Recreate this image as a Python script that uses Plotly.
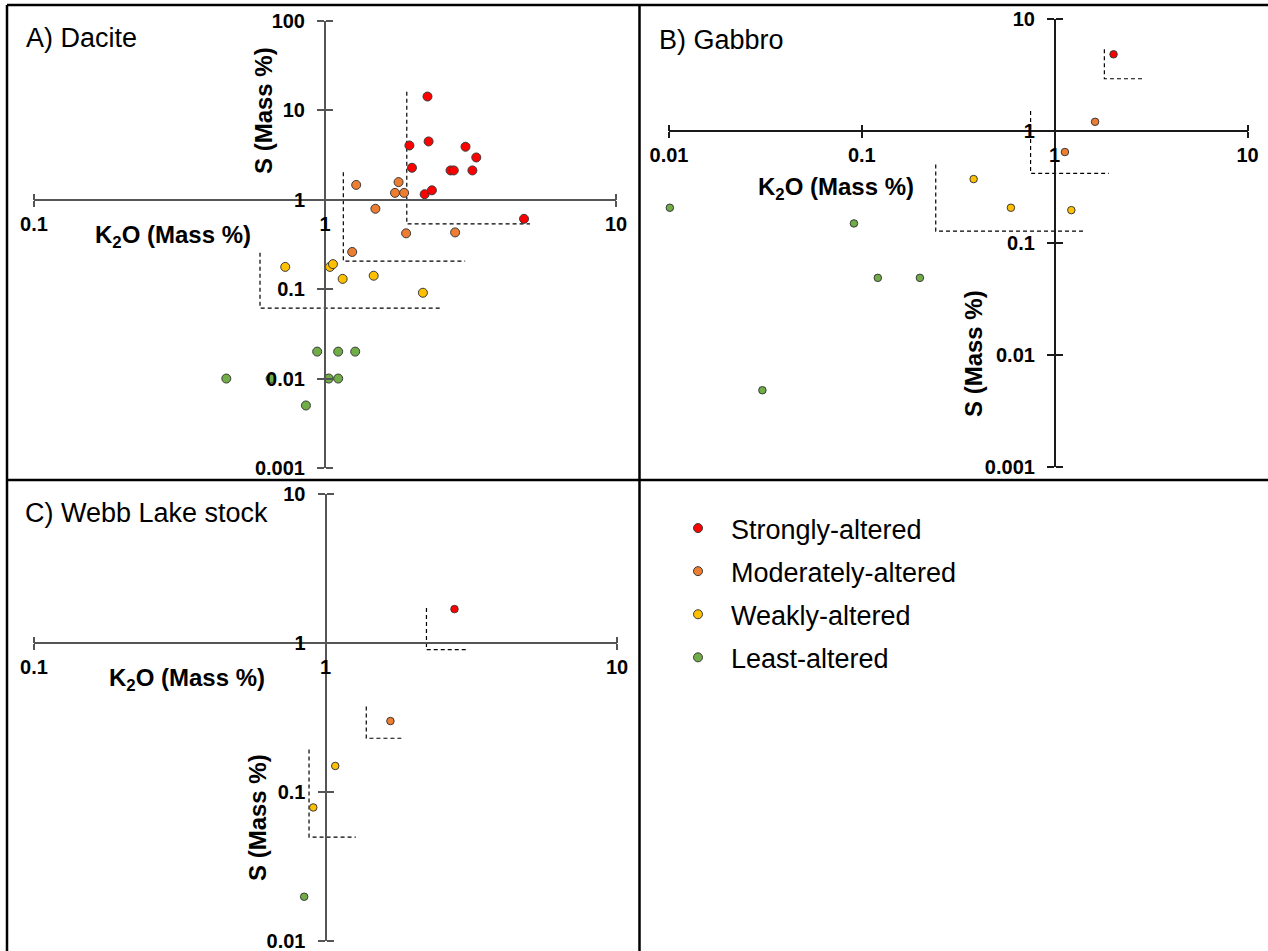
import plotly.graph_objects as go

W, H = 1268, 951

# ---------------- data ----------------
categories = ["Strongly-altered", "Moderately-altered", "Weakly-altered", "Least-altered"]
cat_colors = ["#FF0000", "#ED7D31", "#FFC000", "#70AD47"]

# Panel A) Dacite
a_strong_x = [2.25, 1.95, 2.27, 3.04, 3.31, 1.99, 2.70, 2.77, 3.21, 2.20, 2.33, 4.83]
a_strong_y = [14.2, 4.03, 4.47, 3.90, 2.96, 2.27, 2.12, 2.12, 2.12, 1.15, 1.27, 0.61]
a_mod_x = [1.28, 1.79, 1.74, 1.87, 1.49, 1.90, 2.80, 1.24]
a_mod_y = [1.46, 1.57, 1.19, 1.19, 0.79, 0.42, 0.43, 0.26]
a_weak_x = [0.73, 1.04, 1.065, 1.15, 1.47, 2.17]
a_weak_y = [0.177, 0.177, 0.19, 0.13, 0.141, 0.091]
a_least_x = [0.94, 1.11, 1.27, 0.458, 0.65, 1.03, 1.11, 0.86]
a_least_y = [0.02, 0.02, 0.02, 0.01, 0.01, 0.01, 0.01, 0.005]
# threshold corners: [x of vertical, top y, corner y, right end x]
a_thr_strong = [1.91, 16.1, 0.536, 5.06]
a_thr_mod = [1.156, 2.02, 0.205, 3.03]
a_thr_weak = [0.598, 0.255, 0.0614, 2.48]

# Panel B) Gabbro
b_strong_x = [2.02]
b_strong_y = [4.84]
b_mod_x = [1.62, 1.13]
b_mod_y = [1.21, 0.65]
b_weak_x = [0.38, 0.593, 1.22]
b_weak_y = [0.373, 0.207, 0.197]
b_least_x = [0.0101, 0.091, 0.121, 0.20, 0.0305]
b_least_y = [0.207, 0.15, 0.049, 0.049, 0.00487]
b_thr_strong = [1.81, 5.36, 2.93, 2.84]
b_thr_mod = [0.75, 1.51, 0.419, 1.91]
b_thr_weak = [0.2417, 0.504, 0.128, 1.42]

# Panel C) Webb Lake stock
c_strong_x = [2.77]
c_strong_y = [1.69]
c_mod_x = [1.67]
c_mod_y = [0.30]
c_weak_x = [1.08, 0.908]
c_weak_y = [0.15, 0.079]
c_least_x = [0.845]
c_least_y = [0.0199]
c_thr_strong = [2.22, 1.72, 0.903, 3.03]
c_thr_mod = [1.38, 0.376, 0.23, 1.82]
c_thr_weak = [0.878, 0.193, 0.05, 1.27]

panel_titles = ["A) Dacite", "B) Gabbro", "C) Webb Lake stock"]
x_title = "K<sub>2</sub>O (Mass %)"
y_title = "S (Mass %)"

a_xticks = [0.1, 1, 10]
a_yticks = [0.001, 0.01, 0.1, 1, 10, 100]
b_xticks = [0.01, 0.1, 1, 10]
b_yticks = [0.001, 0.01, 0.1, 1, 10]
c_xticks = [0.1, 1, 10]
c_yticks = [0.01, 0.1, 1, 10]

# ---------------- layout geometry (pixels) ----------------
def fx(p):
    return p / W

def fy(p):
    return 1 - p / H

panels = [
    dict(xpx=(34, 616), xr=(-1, 1), ypx=(20.7, 468), yr=(-3, 2), xt=a_xticks, yt=a_yticks,
         ms=9, lc="#555555", lw=2,
         series=[(a_strong_x, a_strong_y), (a_mod_x, a_mod_y), (a_weak_x, a_weak_y), (a_least_x, a_least_y)],
         thr=[a_thr_strong, a_thr_mod, a_thr_weak],
         title_pos=(24, 38), xt_pos=(173, 236), yt_pos=(264, 111)),
    dict(xpx=(669, 1247.5), xr=(-2, 1), ypx=(19, 467.3), yr=(-3, 1), xt=b_xticks, yt=b_yticks,
         ms=7.5, lc="#1a1a1a", lw=1.5,
         series=[(b_strong_x, b_strong_y), (b_mod_x, b_mod_y), (b_weak_x, b_weak_y), (b_least_x, b_least_y)],
         thr=[b_thr_strong, b_thr_mod, b_thr_weak],
         title_pos=(657, 40), xt_pos=(836, 188), yt_pos=(973, 354)),
    dict(xpx=(34, 617), xr=(-1, 1), ypx=(494, 941.3), yr=(-2, 1), xt=c_xticks, yt=c_yticks,
         ms=7.5, lc="#555555", lw=2,
         series=[(c_strong_x, c_strong_y), (c_mod_x, c_mod_y), (c_weak_x, c_weak_y), (c_least_x, c_least_y)],
         thr=[c_thr_strong, c_thr_mod, c_thr_weak],
         title_pos=(23, 513), xt_pos=(187, 679), yt_pos=(257, 818)),
]

FONT = "Arial, 'Liberation Sans', Helvetica, sans-serif"
fig = go.Figure()
layout = dict(
    width=W, height=H, margin=dict(l=0, r=0, t=0, b=0, pad=0, autoexpand=False),
    paper_bgcolor="white", plot_bgcolor="rgba(0,0,0,0)",
    font=dict(family=FONT, color="black"),
    showlegend=True,
    legend=dict(x=fx(665), y=fy(504), xanchor="left", yanchor="top",
                font=dict(family=FONT, size=27, color="black"),
                tracegroupgap=5, bgcolor="rgba(0,0,0,0)", itemsizing="trace",
                itemwidth=56),
)
annotations = []
shapes = []

def tick_label(v):
    return ("%g" % v)

for i, p in enumerate(panels):
    n = i + 1
    xa = "x" if n == 1 else "x%d" % n
    ya = "y" if n == 1 else "y%d" % n
    xd = [fx(p["xpx"][0]), fx(p["xpx"][1])]
    yd = [fy(p["ypx"][1]), fy(p["ypx"][0])]
    # paper position where the axes cross (data value 1 on each axis)
    cross_x = xd[0] + (0 - p["xr"][0]) / (p["xr"][1] - p["xr"][0]) * (xd[1] - xd[0])
    cross_y = yd[0] + (0 - p["yr"][0]) / (p["yr"][1] - p["yr"][0]) * (yd[1] - yd[0])
    tickfont = dict(family=FONT, size=20, color="black", weight="bold")
    common_x = dict(type="log", range=list(p["xr"]), domain=xd, anchor="free", position=cross_y,
                    tickvals=p["xt"], showgrid=False, zeroline=False, fixedrange=True,
                    ticklen=6, tickwidth=p["lw"], tickcolor=p["lc"], automargin=False)
    common_y = dict(type="log", range=list(p["yr"]), domain=yd, anchor="free", position=cross_x,
                    tickvals=p["yt"], showgrid=False, zeroline=False, fixedrange=True,
                    ticklen=7, tickwidth=p["lw"], tickcolor=p["lc"], automargin=False)
    layout["xaxis" + ("" if n == 1 else str(n))] = dict(
        **common_x, side="bottom", ticks="outside", showline=True, linecolor=p["lc"], linewidth=p["lw"],
        ticktext=[tick_label(v) for v in p["xt"]], tickfont=tickfont, ticklabeloverflow="allow")
    layout["yaxis" + ("" if n == 1 else str(n))] = dict(
        **common_y, side="left", ticks="outside", showline=True, linecolor=p["lc"], linewidth=p["lw"],
        ticktext=[tick_label(v) for v in p["yt"]], tickfont=tickfont, ticklabelstandoff=8,
        ticklabeloverflow="allow")
    # mirror axes so tick marks cross the axis line
    mx, my = n + 3, n + 3
    layout["xaxis%d" % mx] = dict(**common_x, overlaying=xa, side="top", ticks="outside",
                                  showline=False, showticklabels=False)
    layout["yaxis%d" % my] = dict(**common_y, overlaying=ya, side="right", ticks="outside",
                                  showline=False, showticklabels=False)
    fig.add_trace(go.Scatter(x=[None], y=[None], xaxis="x%d" % mx, yaxis="y%d" % my,
                             mode="markers", showlegend=False, hoverinfo="skip"))

    # threshold dashed corners
    for t in p["thr"]:
        fig.add_trace(go.Scatter(x=[t[0], t[0], t[3]], y=[t[1], t[2], t[2]], mode="lines",
                                 line=dict(color="black", width=1.2, dash="4px,3px"),
                                 xaxis=xa, yaxis=ya, showlegend=False, hoverinfo="skip"))
    # points
    for k, (sx, sy) in enumerate(p["series"]):
        fig.add_trace(go.Scatter(
            x=sx, y=sy, mode="markers", name=categories[k], legendgroup=categories[k],
            showlegend=(n == 1), xaxis=xa, yaxis=ya, cliponaxis=False,
            marker=dict(size=p["ms"], color=cat_colors[k], line=dict(color="#3a3a3a", width=1))))

    # titles
    annotations.append(dict(text=panel_titles[i], xref="paper", yref="paper",
                            x=fx(p["title_pos"][0]), y=fy(p["title_pos"][1]),
                            xanchor="left", yanchor="middle", showarrow=False,
                            font=dict(family=FONT, size=27, color="black")))
    annotations.append(dict(text=x_title, xref="paper", yref="paper",
                            x=fx(p["xt_pos"][0]), y=fy(p["xt_pos"][1]),
                            xanchor="center", yanchor="middle", showarrow=False,
                            font=dict(family=FONT, size=24, color="black", weight="bold")))
    annotations.append(dict(text=y_title, xref="paper", yref="paper", textangle=-90,
                            x=fx(p["yt_pos"][0]), y=fy(p["yt_pos"][1]),
                            xanchor="center", yanchor="middle", showarrow=False,
                            font=dict(family=FONT, size=24, color="black", weight="bold")))

# panel frame lines
frame = [
    (7, 5, 7, 951),
    (7, 5, 1268, 5),
    (639.5, 5, 639.5, 951),
    (7, 480, 1268, 480),
]
for x0, y0, x1, y1 in frame:
    shapes.append(dict(type="line", xref="paper", yref="paper",
                       x0=fx(x0), y0=fy(y0), x1=fx(x1), y1=fy(y1),
                       line=dict(color="black", width=2.5)))

layout["annotations"] = annotations
layout["shapes"] = shapes
fig.update_layout(**layout)
fig.write_html("out.html", config={"displayModeBar": False},
               post_script="document.body.style.margin='0';document.body.style.overflow='hidden';")
